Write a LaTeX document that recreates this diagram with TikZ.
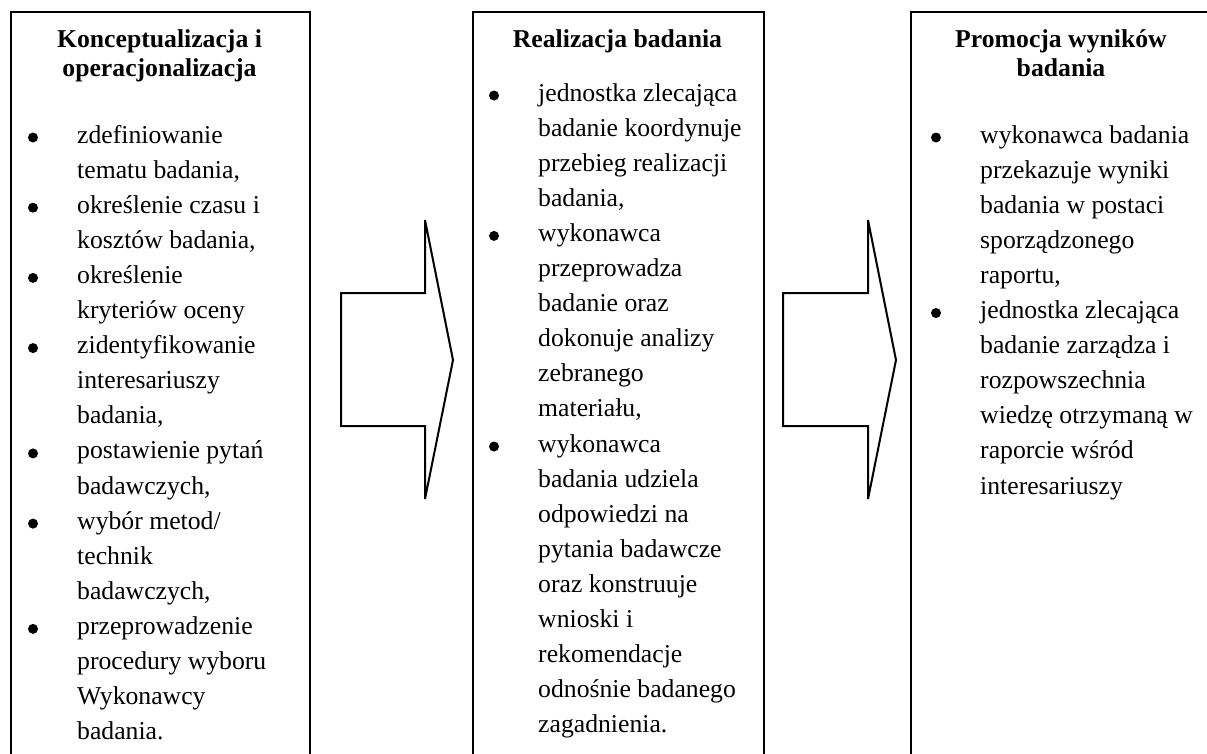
\documentclass[tikz,border=0pt]{standalone}
\usepackage{fontspec}
\setmainfont{Liberation Serif}
\begin{document}
\begin{tikzpicture}[x=1pt,y=-1pt,
  frame/.style={draw, line width=2pt, minimum width=#1, minimum height=770pt, anchor=north west, inner sep=0pt},
  blockarrow/.style={draw, line width=2pt, line join=miter},
  titletext/.style={inner sep=0pt, anchor=base},
  listtext/.style={inner sep=0pt, anchor=base west},
  dot/.style={fill=black}
]
\fill[white] (0,0) rectangle (1207,753);
\useasboundingbox (0,0) rectangle (1207,753);
\begin{scope}
\clip (0,0) rectangle (1207,753);
\node[frame=299pt] (box1) at (10,11) {};
\node[frame=291pt] (box2) at (472,11) {};
\node[frame=302pt] (box3) at (910,11) {};
\end{scope}

% titles
\node[titletext] (t1) at (159.5,47) {\parbox[t]{290pt}{\centering\fontsize{25.7}{29.5}\selectfont\bfseries Konceptualizacja i\\operacjonalizacja}};
\node[titletext] (t2) at (617.5,47) {\parbox[t]{285pt}{\centering\fontsize{25.7}{29.5}\selectfont\bfseries Realizacja badania}};
\node[titletext] (t3) at (1061,47) {\parbox[t]{290pt}{\centering\fontsize{25.7}{29.5}\selectfont\bfseries Promocja wyników\\badania}};

% lists
\node[listtext] (l1) at (77,143) {\parbox[t]{228pt}{\raggedright\fontsize{25.7}{35.1}\selectfont
zdefiniowanie\\tematu badania,\\określenie czasu i\\kosztów badania,\\określenie\\kryteriów oceny\\zidentyfikowanie\\interesariuszy\\badania,\\postawienie pytań\\badawczych,\\wybór metod/\\technik\\badawczych,\\przeprowadzenie\\procedury wyboru\\Wykonawcy\\badania.}};
\node[listtext] (l2) at (538,101) {\parbox[t]{222pt}{\raggedright\fontsize{25.7}{35.1}\selectfont
jednostka zlecająca\\badanie koordynuje\\przebieg realizacji\\badania,\\wykonawca\\przeprowadza\\badanie oraz\\dokonuje analizy\\zebranego\\materiału,\\wykonawca\\badania udziela\\odpowiedzi na\\pytania badawcze\\oraz konstruuje\\wnioski i\\rekomendacje\\odnośnie badanego\\zagadnienia.}};
\node[listtext] (l3) at (980,143) {\parbox[t]{225pt}{\raggedright\fontsize{25.7}{35.1}\selectfont
wykonawca badania\\przekazuje wyniki\\badania w postaci\\sporządzonego\\raportu,\\jednostka zlecająca\\badanie zarządza i\\rozpowszechnia\\wiedzę otrzymaną w\\raporcie wśród\\interesariuszy}};

% bullets
\foreach \k in {0,2,4,6,9,11,14} \fill[dot] (33,{143+\k*35.1-5.5}) circle (5pt);
\foreach \k in {0,4,10} \fill[dot] (494,{101+\k*35.1-5.5}) circle (5pt);
\foreach \k in {0,5} \fill[dot] (936,{143+\k*35.1-5.5}) circle (5pt);

% block arrows
\draw[blockarrow] (341,293) -- (425,293) -- (425,220) -- (453,360) -- (425,499) -- (425,426) -- (341,426) -- cycle;
\draw[blockarrow] (783,293) -- (868,293) -- (868,220) -- (896,360) -- (868,499) -- (868,426) -- (783,426) -- cycle;
\end{tikzpicture}
\end{document}
